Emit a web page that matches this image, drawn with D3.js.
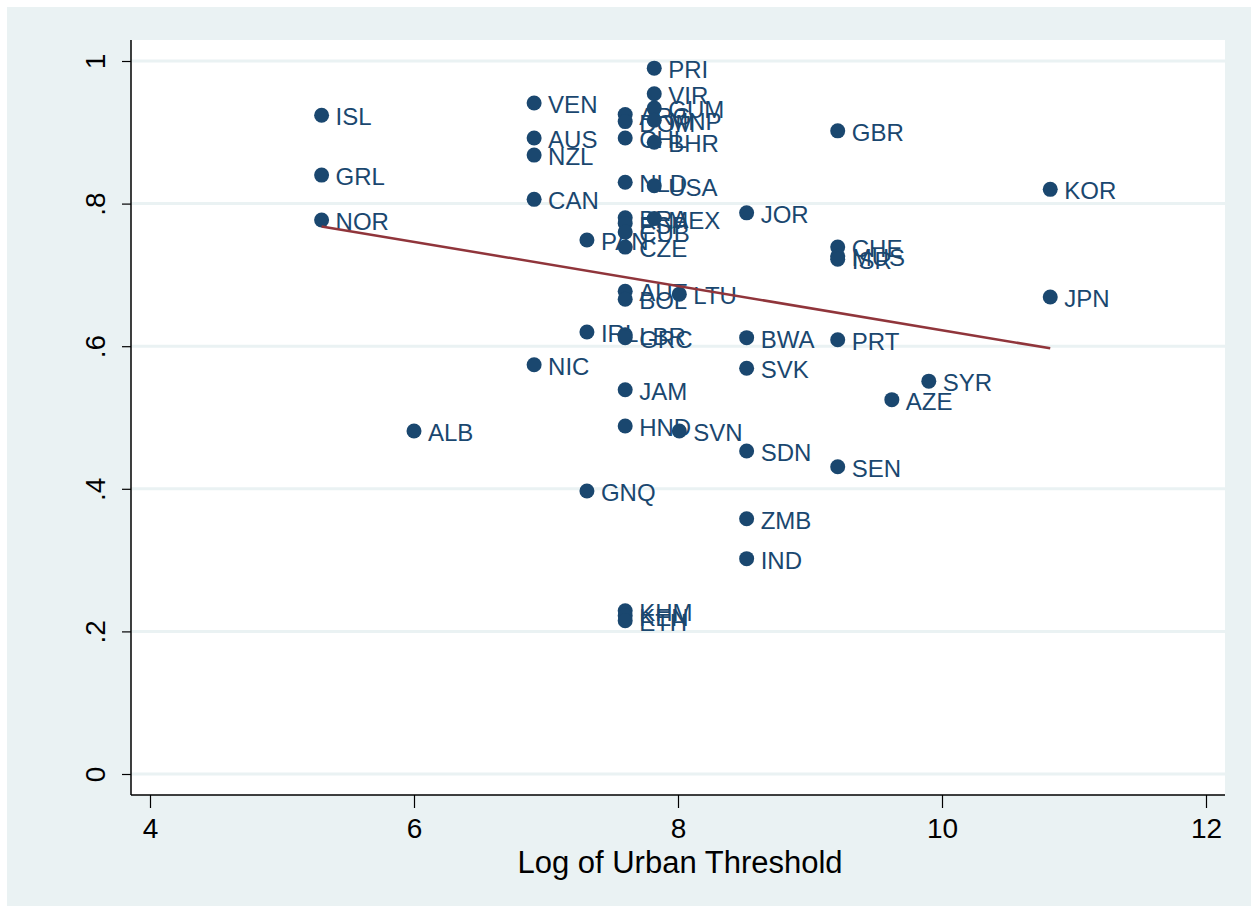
<!DOCTYPE html>
<html>
<head>
<meta charset="utf-8">
<script src="https://cdn.jsdelivr.net/npm/d3@7"></script>
<style>
  body { margin: 0; background: #fff; }
  svg text { font-family: "Liberation Sans", Arial, sans-serif; }
</style>
</head>
<body>
<div id="vis"></div>
<script>
// Country codes, log urban threshold, and share values
var codes = ["ISL","GRL","NOR","ALB","VEN","AUS","NZL","CAN","NIC","PAN","IRL","GNQ",
  "ARG","DOM","CHL","NLD","BRA","ESP","CUB","CZE","AUT","BOL","LBR","GRC","JAM","HND",
  "KHM","KEN","ETH","PRI","VIR","GUM","MNP","BHR","USA","MEX","LTU","SVN",
  "JOR","BWA","SVK","SDN","ZMB","IND","GBR","CHE","MUS","ISR","PRT","SEN","AZE","SYR","KOR","JPN"];
var logThreshold = [5.30,5.30,5.30,6.00,6.91,6.91,6.91,6.91,6.91,7.31,7.31,7.31,
  7.60,7.60,7.60,7.60,7.60,7.60,7.60,7.60,7.60,7.60,7.60,7.60,7.60,7.60,
  7.60,7.60,7.60,7.82,7.82,7.82,7.82,7.82,7.82,7.82,8.01,8.01,
  8.52,8.52,8.52,8.52,8.52,8.52,9.21,9.21,9.21,9.21,9.21,9.21,9.62,9.90,10.82,10.82];
var share = [0.924,0.840,0.777,0.481,0.941,0.892,0.868,0.806,0.574,0.749,0.620,0.397,
  0.925,0.915,0.892,0.830,0.780,0.772,0.760,0.739,0.677,0.666,0.616,0.612,0.539,0.488,
  0.229,0.222,0.215,0.990,0.954,0.934,0.917,0.886,0.825,0.779,0.673,0.481,
  0.787,0.612,0.569,0.453,0.358,0.302,0.902,0.739,0.726,0.722,0.609,0.431,0.525,0.551,0.820,0.669];

// fitted line endpoints
var fitX = [5.30, 10.82];
var fitY = [0.768, 0.597];

var xTicks = [4, 6, 8, 10, 12];
var yTicks = [0, 0.2, 0.4, 0.6, 0.8, 1];
var yTickLabels = ["0", ".2", ".4", ".6", ".8", "1"];

var width = 1258, height = 913;
var plot = {left: 131, right: 1225, top: 40, bottom: 795};

var svg = d3.select("#vis").append("svg")
  .attr("width", width)
  .attr("height", height);

// outer background
svg.append("rect")
  .attr("x", 7).attr("y", 7)
  .attr("width", 1244).attr("height", 899)
  .attr("fill", "#eaf2f3");

svg.append("rect")
  .attr("x", plot.left).attr("y", plot.top)
  .attr("width", plot.right - plot.left).attr("height", plot.bottom - plot.top)
  .attr("fill", "#fff");

var x = d3.scaleLinear().domain([4, 12]).range([150, 1206]);
var y = d3.scaleLinear().domain([0, 1]).range([774, 61]);

// grid lines
svg.append("g").selectAll("line")
  .data(yTicks)
  .enter().append("line")
  .attr("x1", plot.left).attr("x2", plot.right)
  .attr("y1", d => y(d)).attr("y2", d => y(d))
  .attr("stroke", "#eaf2f3")
  .attr("stroke-width", 3);

// y axis
var yAxis = d3.axisLeft(y)
  .tickValues(yTicks)
  .tickSize(9)
  .tickFormat((d, i) => yTickLabels[i]);

var gy = svg.append("g")
  .attr("transform", "translate(" + plot.left + ",0)")
  .call(yAxis);
gy.select(".domain").attr("d", "M0," + plot.top + "V" + plot.bottom).attr("stroke-width", 1.5);
gy.selectAll(".tick line").attr("stroke-width", 1.2);
gy.selectAll(".tick text")
  .attr("font-size", 28)
  .attr("fill", "#000")
  .attr("text-anchor", "middle")
  .attr("x", -36)
  .attr("dy", "0.35em")
  .attr("transform", "rotate(-90,-36,0)");

// x axis
var xAxis = d3.axisBottom(x)
  .tickValues(xTicks)
  .tickSize(13)
  .tickPadding(10);

var gx = svg.append("g")
  .attr("transform", "translate(0," + plot.bottom + ")")
  .call(xAxis);
gx.select(".domain").attr("d", "M" + plot.left + ",0H" + plot.right).attr("stroke-width", 1.5);
gx.selectAll(".tick line").attr("stroke-width", 1.2);
gx.selectAll(".tick text")
  .attr("font-size", 28)
  .attr("fill", "#000");

svg.append("text")
  .attr("x", 680)
  .attr("y", 873)
  .attr("text-anchor", "middle")
  .attr("font-size", 31)
  .text("Log of Urban Threshold");

// points and labels
var data = codes.map((c, i) => ({code: c, lx: logThreshold[i], v: share[i]}));

var pts = svg.append("g");
pts.selectAll("circle")
  .data(data)
  .enter().append("circle")
  .attr("cx", d => x(d.lx))
  .attr("cy", d => y(d.v))
  .attr("r", 7.5)
  .attr("fill", "#1a476f");

pts.selectAll("text")
  .data(data)
  .enter().append("text")
  .attr("x", d => x(d.lx) + 14)
  .attr("y", d => y(d.v))
  .attr("dy", "0.42em")
  .attr("font-size", 24)
  .attr("fill", "#1a476f")
  .text(d => d.code);

// fitted line
svg.append("line")
  .attr("x1", x(fitX[0])).attr("y1", y(fitY[0]))
  .attr("x2", x(fitX[1])).attr("y2", y(fitY[1]))
  .attr("stroke", "#90353b")
  .attr("stroke-width", 2.5);
</script>
</body>
</html>
